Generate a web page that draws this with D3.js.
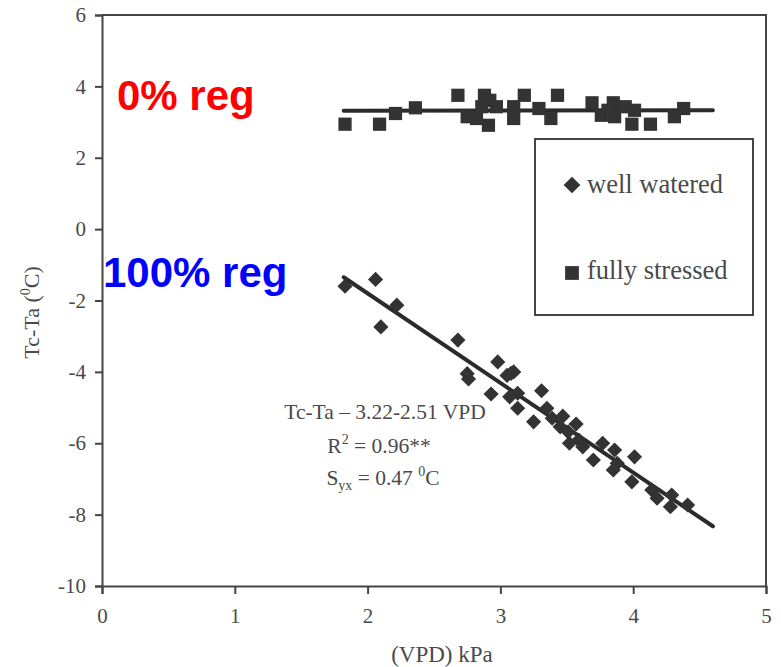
<!DOCTYPE html>
<html>
<head>
<meta charset="utf-8">
<script src="https://cdn.jsdelivr.net/npm/d3@7"></script>
<style>
  body { margin: 0; background: #fff; }
  svg { display: block; }
</style>
</head>
<body>
<svg id="chart"></svg>
<script>
// well watered (diamonds)
const wellVpd = [1.83, 2.06, 2.22, 2.10, 2.68, 2.75, 2.76, 2.98, 3.05, 3.08, 3.10, 2.93, 3.07, 3.13, 3.13,
  3.31, 3.35, 3.25, 3.39, 3.47, 3.45, 3.51, 3.57, 3.52, 3.59, 3.62, 3.70, 3.77, 3.86, 3.88, 3.85,
  4.01, 3.99, 4.14, 4.18, 4.29, 4.28, 4.41];
const wellDt = [-1.60, -1.41, -2.13, -2.74, -3.11, -4.05, -4.20, -3.72, -4.10, -4.04, -4.00, -4.62, -4.70, -4.60, -5.02,
  -4.53, -5.02, -5.40, -5.30, -5.24, -5.54, -5.68, -5.46, -6.00, -5.91, -6.10, -6.47, -6.00, -6.19, -6.56, -6.75,
  -6.38, -7.08, -7.31, -7.54, -7.45, -7.78, -7.73];

// fully stressed (squares)
const stressVpd = [1.83, 2.09, 2.21, 2.36, 2.68, 2.75, 2.88, 2.91, 2.82, 2.97, 2.86, 2.92, 3.10, 3.10, 3.18,
  3.29, 3.38, 3.43, 3.69, 3.76, 3.85, 3.86, 3.94, 3.99, 4.01, 4.13, 4.31, 4.38, 3.81];
const stressDt = [2.94, 2.94, 3.24, 3.40, 3.75, 3.15, 3.75, 2.91, 3.10, 3.43, 3.43, 3.61, 3.43, 3.10, 3.75,
  3.38, 3.10, 3.75, 3.54, 3.19, 3.54, 3.15, 3.43, 2.94, 3.33, 2.94, 3.15, 3.38, 3.33];

// fitted lines: intercept, slope over the VPD range
const fitRange = [1.82, 4.6];
const wellFit = [3.22, -2.51];
const stressFit = [3.31, 0.005];

const xTicks = [0, 1, 2, 3, 4, 5];
const yTicks = [-10, -8, -6, -4, -2, 0, 2, 4, 6];

const W = 781, H = 667;
const margin = {top: 15, right: 15, bottom: 81, left: 102};
const iw = W - margin.left - margin.right, ih = H - margin.top - margin.bottom;

const svg = d3.select("#chart").attr("width", W).attr("height", H);
const g = svg.append("g").attr("transform", `translate(${margin.left},${margin.top})`);

const x = d3.scaleLinear().domain([0, 5]).range([0, iw]);
const y = d3.scaleLinear().domain([-10, 6]).range([ih, 0]);

const axisColor = "#444";
const textColor = "#4a4a4a";
const serif = "'Liberation Serif', 'Times New Roman', serif";
const sans = "'Liberation Sans', Arial, sans-serif";

// frame top/right
g.append("path")
  .attr("d", `M0,0H${iw}V${ih}`)
  .attr("fill", "none").attr("stroke", axisColor).attr("stroke-width", 2);

const xAxis = g.append("g").attr("transform", `translate(0,${ih})`)
  .call(d3.axisBottom(x).tickValues(xTicks).tickFormat(d => String(d)).tickSize(8).tickPadding(14));
const yAxis = g.append("g")
  .call(d3.axisLeft(y).tickValues(yTicks).tickFormat(d => String(d)).tickSize(7).tickPadding(9));

[xAxis, yAxis].forEach(a => {
  a.select(".domain").attr("stroke", axisColor).attr("stroke-width", 2);
  a.selectAll(".tick line").attr("stroke", axisColor).attr("stroke-width", 2);
  a.selectAll(".tick text")
    .style("font-family", serif).style("font-size", "21px").attr("fill", textColor);
});

// axis titles
svg.append("text")
  .attr("x", 442).attr("y", 662)
  .attr("text-anchor", "middle")
  .attr("font-family", serif).attr("font-size", 23).attr("fill", textColor)
  .text("(VPD) kPa");

const yt = svg.append("text")
  .attr("transform", `translate(39,${margin.top + ih / 2 + 12}) rotate(-90)`)
  .attr("text-anchor", "middle")
  .attr("font-family", serif).attr("font-size", 22).attr("fill", textColor);
yt.append("tspan").text("Tc-Ta (");
yt.append("tspan").attr("font-size", 14).attr("dy", -9).text("0");
yt.append("tspan").attr("dy", 9).text("C)");

// regression lines
const line = d3.line().x(d => x(d[0])).y(d => y(d[1]));
[wellFit, stressFit].forEach(f => {
  g.append("path")
    .datum(fitRange.map(v => [v, f[0] + f[1] * v]))
    .attr("d", line)
    .attr("fill", "none").attr("stroke", "#2b2b2b").attr("stroke-width", 4).attr("stroke-linecap", "round");
});

const markColor = "#333";
const diamond = d3.symbol(d3.symbolSquare, 115);
const square = d3.symbol(d3.symbolSquare, 175);

g.append("g").selectAll("path")
  .data(stressVpd.map((v, i) => [v, stressDt[i]]))
  .join("path")
  .attr("transform", d => `translate(${x(d[0])},${y(d[1])})`)
  .attr("d", square).attr("fill", markColor);

g.append("g").selectAll("path")
  .data(wellVpd.map((v, i) => [v, wellDt[i]]))
  .join("path")
  .attr("transform", d => `translate(${x(d[0])},${y(d[1])}) rotate(45)`)
  .attr("d", diamond).attr("fill", markColor);

// legend
const lg = svg.append("g");
lg.append("rect").attr("x", 535).attr("y", 139).attr("width", 218).attr("height", 176)
  .attr("fill", "#fff").attr("stroke", axisColor).attr("stroke-width", 2);
lg.append("path").attr("transform", "translate(572,185) rotate(45)")
  .attr("d", d3.symbol(d3.symbolSquare, 140)).attr("fill", markColor);
lg.append("path").attr("transform", "translate(572,273)")
  .attr("d", d3.symbol(d3.symbolSquare, 190)).attr("fill", markColor);
lg.append("text").attr("x", 587).attr("y", 193)
  .attr("font-family", serif).attr("font-size", 26.5).attr("fill", textColor).text("well watered");
lg.append("text").attr("x", 587).attr("y", 279)
  .attr("font-family", serif).attr("font-size", 26.5).attr("fill", textColor).text("fully stressed");

// equation
const eq = svg.append("g").attr("font-family", serif).attr("font-size", 21.5).attr("fill", textColor)
  .attr("text-anchor", "middle");
eq.append("text").attr("x", 385).attr("y", 419).text("Tc-Ta \u2013 3.22-2.51 VPD");
const r2 = eq.append("text").attr("x", 379).attr("y", 453);
r2.append("tspan").text("R");
r2.append("tspan").attr("font-size", 14).attr("dy", -9).text("2");
r2.append("tspan").attr("dy", 9).text(" = 0.96**");
const sy = eq.append("text").attr("x", 383).attr("y", 485);
sy.append("tspan").text("S");
sy.append("tspan").attr("font-size", 14).attr("dy", 5).text("yx");
sy.append("tspan").attr("dy", -5).text(" = 0.47 ");
sy.append("tspan").attr("font-size", 14).attr("dy", -9).text("0");
sy.append("tspan").attr("dy", 9).text("C");

// red / blue annotations
svg.append("text").attr("x", 117).attr("y", 110)
  .attr("font-family", sans).attr("font-weight", "bold").attr("font-size", 42).attr("fill", "#ff0000")
  .text("0% reg");
svg.append("text").attr("x", 103).attr("y", 287)
  .attr("font-family", sans).attr("font-weight", "bold").attr("font-size", 42).attr("fill", "#0000ff")
  .text("100% reg");
</script>
</body>
</html>
